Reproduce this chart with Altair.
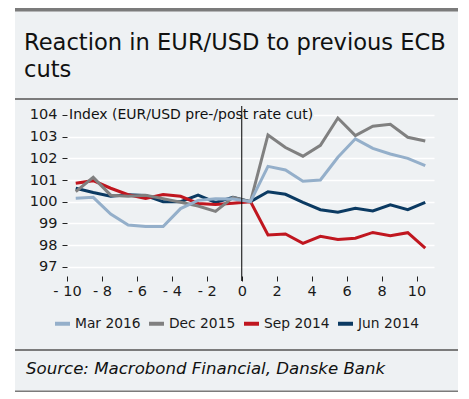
import altair as alt
import pandas as pd

# ---- data ----
X = [-9.5, -8.5, -7.5, -6.5, -5.5, -4.5, -3.5, -2.5, -1.5, -0.5, 0.5,
     1.5, 2.5, 3.5, 4.5, 5.5, 6.5, 7.5, 8.5, 9.5, 10.5]
MAR_2016 = [100.16, 100.2, 99.43, 98.92, 98.85, 98.85, 99.68, 100.06, 100.14, 100.12, 100.0,
            101.63, 101.46, 100.94, 101.0, 102.05, 102.9, 102.46, 102.2, 102.0, 101.66]
DEC_2015 = [100.46, 101.12, 100.3, 100.25, 100.3, 100.14, 99.97, 99.8, 99.55, 100.2, 100.0,
            103.08, 102.5, 102.1, 102.6, 103.86, 103.05, 103.48, 103.57, 102.97, 102.8]
SEP_2014 = [100.85, 100.97, 100.62, 100.32, 100.15, 100.33, 100.25, 99.92, 99.87, 99.93, 100.0,
            98.46, 98.51, 98.08, 98.4, 98.25, 98.31, 98.58, 98.43, 98.57, 97.86]
JUN_2014 = [100.62, 100.42, 100.25, 100.32, 100.28, 100.0, 100.0, 100.3, 99.97, 100.2, 100.0,
            100.46, 100.34, 99.97, 99.63, 99.51, 99.69, 99.57, 99.85, 99.63, 99.97]

SERIES = ["Mar 2016", "Dec 2015", "Sep 2014", "Jun 2014"]
COLORS = ["#94afca", "#808080", "#c0161f", "#0b3a62"]
DRAW_ORDER = ["Jun 2014", "Sep 2014", "Dec 2015", "Mar 2016"]
X_TICKS = [-10, -8, -6, -4, -2, 0, 2, 4, 6, 8, 10]
Y_TICKS = [97, 98, 99, 100, 101, 102, 103, 104]

TITLE_1 = "Reaction in EUR/USD to previous ECB"
TITLE_2 = "cuts"
Y_LABEL = "Index (EUR/USD pre-/post rate cut)"
SOURCE = "Source: Macrobond Financial, Danske Bank"

FONT = "DejaVu Sans"
PANEL = "#eef1f3"

vals = {"Mar 2016": MAR_2016, "Dec 2015": DEC_2015, "Sep 2014": SEP_2014, "Jun 2014": JUN_2014}
rows = []
for s in SERIES:
    for x, v in zip(X, vals[s]):
        rows.append({"series": s, "x": x, "v": v})
df = pd.DataFrame(rows)

xdef = alt.X("x:Q",
             scale=alt.Scale(domain=[-10, 11], nice=False, zero=False),
             axis=alt.Axis(values=X_TICKS, title=None, grid=False, domain=False,
                           tickSize=5, tickColor="#222222", tickWidth=1,
                           labelFontSize=14.5, labelFont=FONT, labelColor="#1a1a1a",
                           labelPadding=3, labelOverlap=False, labelFlush=False,
                           labelExpr="datum.value < 0 ? '- ' + format(abs(datum.value), 'd') : datum.label"))
ydef = alt.Y("v:Q",
             scale=alt.Scale(domain=[96.57, 104.415], nice=False, zero=False),
             axis=alt.Axis(values=Y_TICKS, title=None, grid=True, gridColor="white",
                           gridWidth=1.5, domain=False, tickSize=5, tickColor="#222222",
                           labelFontSize=14.5, labelFont=FONT, labelColor="#1a1a1a",
                           labelPadding=5, labelFlush=False))
cdef = alt.Color("series:N",
                 scale=alt.Scale(domain=SERIES, range=COLORS),
                 legend=alt.Legend(orient="none", legendX=-14, legendY=208,
                                   direction="horizontal", title=None,
                                   symbolType="stroke", symbolStrokeWidth=4,
                                   symbolSize=225, labelFontSize=13.8, labelFont=FONT,
                                   labelColor="#1a1a1a", columnPadding=0, labelOffset=3))

base = alt.Chart(df).mark_line(strokeWidth=3).encode(x=xdef, y=ydef, color=cdef)
lines = [base.transform_filter(alt.datum.series == s) for s in DRAW_ORDER]

one = pd.DataFrame({"k": [0]})

def rect(x1, x2, y1, y2, color):
    return alt.Chart(one).mark_rect(color=color).encode(
        x=alt.value(x1), x2=alt.value(x2), y=alt.value(y1), y2=alt.value(y2))

strip = rect(-60, -52, -100, 400, "white")
top_bar = rect(-52, 391, -100, -94.5, "#7b7b7b")
div1 = rect(-52, 391, -8, -6, "#7b7b7b")
div2 = rect(-52, 391, 243, 245, "#7b7b7b")
bottom = rect(-52, 391, 284.5, 286, "#7b7b7b")
label_bg = rect(1, 247, 2, 16, PANEL)

zero_rule = alt.Chart(pd.DataFrame({"x": [0]})).mark_rule(color="black", strokeWidth=1).encode(
    x=xdef, y=alt.value(0), y2=alt.value(175))

def text(t, x, y, size, **kw):
    return alt.Chart(pd.DataFrame({"t": [t]})).mark_text(
        align="left", font=FONT, fontSize=size, color="#111111", **kw).encode(
        text="t:N", x=alt.value(x), y=alt.value(y))

t1 = text(TITLE_1, -43, -56, 22.6, baseline="alphabetic")
t2 = text(TITLE_2, -43, -28.7, 22.6, baseline="alphabetic")
ylab = text(Y_LABEL, 2, 9, 14, baseline="middle")
src = text(SOURCE, -41, 268, 16.6, baseline="alphabetic", fontStyle="italic")

chart = alt.layer(
    strip, top_bar, div1, div2, bottom, label_bg, *lines, zero_rule, t1, t2, ylab, src
).properties(
    width=367, height=170,
    padding={"left": 59, "top": 98, "right": 24, "bottom": 116},
    autosize=alt.AutoSizeParams(type="none"),
    background=PANEL,
).configure_view(stroke=None)

chart.save("out.html", embed_options={"renderer": "svg", "actions": False})
